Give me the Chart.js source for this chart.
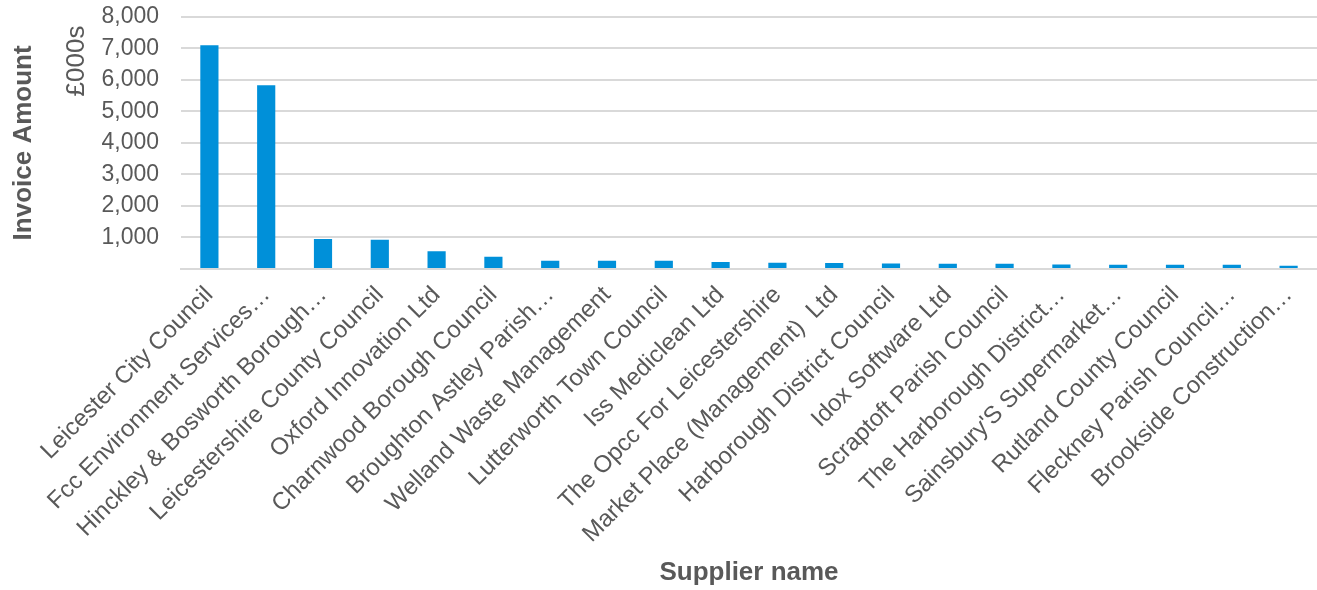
<!DOCTYPE html>
<html>
<head>
<meta charset="utf-8">
<title>Invoice Amount by Supplier</title>
<script src="https://cdn.jsdelivr.net/npm/chart.js@4/dist/chart.umd.min.js"></script>
<style>
  body { margin: 0; background: #ffffff; }
  #wrap { width: 1317px; height: 590px; }
</style>
</head>
<body>
<div id="wrap"><canvas id="myChart" width="1317" height="590"></canvas></div>
<script>
// supplier names as shown on the axis (long ones are cut off in the original)
var suppliers = [
    'Leicester City Council',
    'Fcc Environment Services…',
    'Hinckley & Bosworth Borough…',
    'Leicestershire County Council',
    'Oxford Innovation Ltd',
    'Charnwood Borough Council',
    'Broughton Astley Parish…',
    'Welland Waste Management',
    'Lutterworth Town Council',
    'Iss Mediclean Ltd',
    'The Opcc For Leicestershire',
    'Market Place (Management)  Ltd',
    'Harborough District Council',
    'Idox Software Ltd',
    'Scraptoft Parish Council',
    'The Harborough District…',
    "Sainsbury'S Supermarket…",
    'Rutland County Council',
    'Fleckney Parish Council…',
    'Brookside Construction…'
];

// invoice amount in £000s
var invoiceAmount = [7100, 5830, 950, 930, 560, 390, 265, 262, 260, 222,
                     200, 188, 172, 170, 165, 140, 137, 135, 132, 105];

var yTicks = [0, 1000, 2000, 3000, 4000, 5000, 6000, 7000, 8000];

var font = 'Arial, "Liberation Sans", sans-serif';
var grey = '#595959';
var clear = 'rgba(0,0,0,0)';

// draws the small "£000s" unit next to the axis title
var unitLabel = {
    id: 'unitLabel',
    afterDraw: function (chart) {
        var ctx = chart.ctx;
        ctx.save();
        ctx.translate(chart.chartArea.left - 104, 61);
        ctx.rotate(-Math.PI / 2);
        ctx.font = '26px ' + font;
        ctx.fillStyle = grey;
        ctx.textAlign = 'center';
        ctx.textBaseline = 'middle';
        ctx.fillText('£000s', 0, 0);
        ctx.restore();
    }
};

function loadchart() {
    var ctx = document.getElementById('myChart').getContext('2d');
    var myChart = new Chart(ctx, {
        type: 'bar',
        data: {
            labels: suppliers,
            datasets: [{
                label: 'Invoice Amount',
                data: invoiceAmount,
                backgroundColor: '#0090d9',
                borderWidth: 0,
                categoryPercentage: 1,
                barPercentage: 0.32
            }]
        },
        options: {
            responsive: false,
            animation: false,
            layout: { padding: { top: 0, left: 8, right: 0, bottom: 0 } },
            plugins: {
                legend: { display: false },
                tooltip: { enabled: false }
            },
            scales: {
                x: {
                    afterFit: function (scale) { scale.height = 321; }, // room for the long slanted names
                    // invisible tick marks just push the names down a bit
                    grid: { color: clear, drawOnChartArea: false, drawTicks: true, tickLength: 8, tickColor: clear },
                    border: { color: '#d9d9d9', width: 2 },
                    ticks: {
                        autoSkip: false,
                        maxRotation: 45,
                        minRotation: 45,
                        padding: 4,
                        color: grey,
                        font: { family: font, size: 24 }
                    },
                    title: {
                        display: true,
                        text: 'Supplier name',
                        color: grey,
                        padding: { top: 4, bottom: 2 },
                        font: { family: font, size: 26, weight: 'bold' }
                    }
                },
                y: {
                    min: yTicks[0],
                    max: yTicks[yTicks.length - 1],
                    afterBuildTicks: function (axis) {
                        axis.ticks = yTicks.map(function (v) { return { value: v }; });
                    },
                    afterFit: function (scale) { scale.width = 173; },
                    grid: { color: '#d9d9d9', lineWidth: 2, drawTicks: true, tickLength: 19, tickColor: clear },
                    border: { display: false },
                    ticks: {
                        autoSkip: false,
                        padding: 3,
                        color: grey,
                        font: { family: font, size: 23 },
                        callback: function (value) {
                            return value === 0 ? '' : value.toLocaleString('en-GB'); // no label at zero
                        }
                    },
                    title: {
                        display: true,
                        text: 'Invoice Amount',
                        color: grey,
                        padding: { top: 0, bottom: 60 },
                        font: { family: font, size: 26, weight: 'bold' }
                    }
                }
            }
        },
        plugins: [unitLabel]
    });
}
document.addEventListener('DOMContentLoaded', loadchart);
</script>
</body>
</html>
